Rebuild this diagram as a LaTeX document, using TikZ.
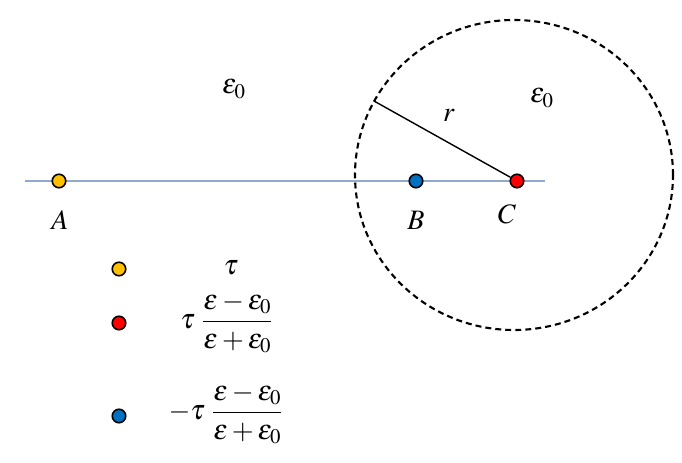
\documentclass[tikz,border=0pt]{standalone}
\usepackage{mathptmx}
\definecolor{axisblue}{HTML}{8FAACB}
\definecolor{ptyellow}{HTML}{FFC000}
\definecolor{ptred}{HTML}{FF0000}
\definecolor{ptblue}{HTML}{0070C0}
\begin{document}
\begin{tikzpicture}[font=\fontsize{16}{18}\selectfont,
    charge/.style={circle,draw=black,line width=0.9pt,minimum size=0.27cm,inner sep=0pt}]
    \useasboundingbox (0,0) rectangle (13.64,9.26);
    \coordinate (L) at (0.5,5.64);
    \coordinate (R) at (10.9,5.64);
    \draw[axisblue,line width=0.8pt] (L) -- (R);
    \draw[dash pattern=on 3.4pt off 2.3pt,line width=1.2pt] (10.28,5.76) ellipse (3.18 and 3.10);
    \coordinate (rim) at (7.48,7.24);
    \node[charge,fill=ptyellow] (A) at (1.18,5.64) {};
    \node[charge,fill=ptblue] (B) at (8.32,5.64) {};
    \node[charge,fill=ptred] (C) at (10.34,5.64) {};
    \draw[line width=0.8pt] (rim) -- (C);
    \node (lA) at (1.2,4.86) {$A$};
    \node (lB) at (8.32,4.86) {$B$};
    \node (lC) at (10.14,4.98) {$C$};
    \node (r) at (8.98,6.96) {$r$};
    \node (epsout) at (4.68,7.48) {$\varepsilon_0$};
    \node (epsin) at (10.84,7.3) {$\varepsilon_0$};
    % legend
    \node[charge,fill=ptyellow] (k1) at (2.38,3.88) {};
    \node[charge,fill=ptred] (k2) at (2.38,2.8) {};
    \node[charge,fill=ptblue] (k3) at (2.38,0.94) {};
    \node (q1) at (4.62,3.9) {$\tau$};
    \node (q2) at (4.54,2.8) {$\displaystyle\tau\;\frac{\varepsilon-\varepsilon_0}{\varepsilon+\varepsilon_0}$};
    \node (q3) at (4.52,0.98) {$\displaystyle-\tau\;\frac{\varepsilon-\varepsilon_0}{\varepsilon+\varepsilon_0}$};
  \end{tikzpicture}
\end{document}
